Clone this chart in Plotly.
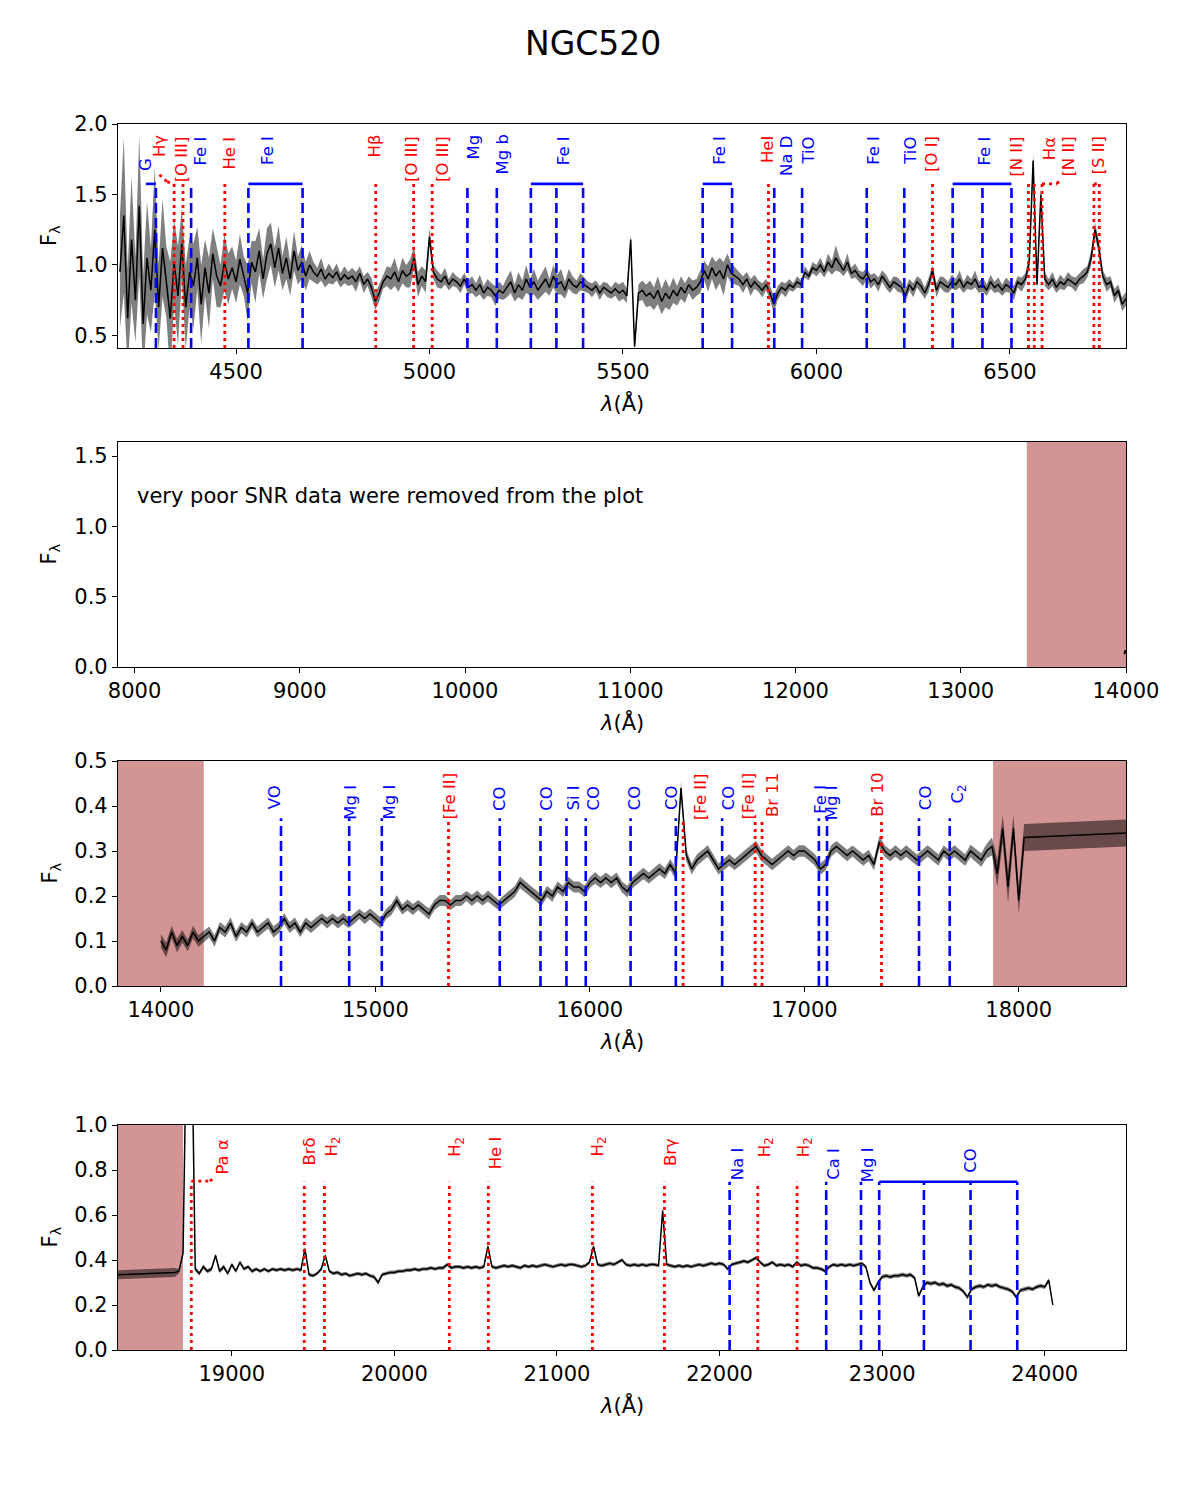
import numpy as np
import plotly.graph_objects as go

# ---------------- data ----------------
# Panel 1 (optical), 10 A grid 4200..6800
P1_WAVE = np.arange(4200, 6801, 10)
P1_FLUX = [
    0.95, 1.35, 0.62, 1.18, 0.75, 1.42, 0.58, 1.05, 0.82, 1.25,
    0.70, 1.12, 0.88, 0.62, 1.02, 0.78, 1.15, 0.70, 0.95, 0.85,
    1.05, 0.72, 0.98, 0.80, 1.08, 0.92, 0.85, 1.02, 0.90, 0.98,
    0.88, 1.04, 0.92, 0.80, 1.02, 0.95, 1.10, 0.90, 1.08, 1.15,
    0.98, 1.12, 0.94, 1.05, 0.90, 1.10, 0.96, 1.02, 0.92, 1.00,
    0.95, 0.92, 0.97, 0.90, 0.94, 0.91, 0.95, 0.89, 0.93, 0.90,
    0.92, 0.88, 0.94, 0.86, 0.90, 0.84, 0.74, 0.80, 0.88, 0.92,
    0.90, 0.95, 0.88, 0.96, 0.92, 0.94, 1.05, 0.86, 0.92, 0.88,
    1.20, 0.95, 0.90, 0.88, 0.92, 0.86, 0.90, 0.88, 0.85, 0.90,
    0.84, 0.86, 0.82, 0.86, 0.80, 0.84, 0.82, 0.78, 0.82, 0.80,
    0.84, 0.88, 0.80, 0.86, 0.82, 0.90, 0.84, 0.88, 0.82, 0.86,
    0.90, 0.84, 0.92, 0.86, 0.88, 0.82, 0.90, 0.86, 0.84, 0.88,
    0.86, 0.84, 0.82, 0.85, 0.80, 0.84, 0.82, 0.80, 0.83, 0.80,
    0.82, 0.78, 1.18, 0.42, 0.80, 0.82, 0.78, 0.80, 0.76, 0.82,
    0.74, 0.80, 0.76, 0.82, 0.78, 0.84, 0.80, 0.86, 0.82, 0.84,
    0.88, 0.96, 0.90, 0.98, 0.92, 0.96, 0.90, 1.00, 0.94, 0.92,
    0.90, 0.86, 0.90, 0.84, 0.88, 0.85, 0.82, 0.86, 0.80, 0.72,
    0.80, 0.84, 0.82, 0.86, 0.84, 0.88, 0.86, 0.95, 0.92, 0.98,
    0.96, 1.00, 0.95, 1.02, 0.98, 1.05, 1.00, 0.96, 1.02, 0.94,
    0.96, 0.92, 0.90, 0.94, 0.88, 0.90, 0.86, 0.92, 0.88, 0.84,
    0.88, 0.86, 0.84, 0.78, 0.86, 0.82, 0.88, 0.85, 0.80, 0.86,
    0.96, 0.82, 0.88, 0.86, 0.84, 0.88, 0.86, 0.90, 0.84, 0.88,
    0.86, 0.90, 0.84, 0.86, 0.82, 0.88, 0.84, 0.86, 0.82, 0.86,
    0.84, 0.80, 0.88, 0.86, 0.90, 1.02, 1.74, 0.86, 1.50, 0.90,
    0.86, 0.90, 0.84, 0.88, 0.86, 0.90, 0.88, 0.86, 0.90, 0.92,
    0.95, 1.05, 1.25, 1.12, 0.92, 0.86, 0.88, 0.78, 0.82, 0.72,
    0.76,
]
P1_ERR = [
    0.40, 0.55, 0.35, 0.45, 0.30, 0.50, 0.35, 0.40, 0.30, 0.45,
    0.30, 0.35, 0.25, 0.40, 0.30, 0.35, 0.25, 0.30, 0.25, 0.30,
    0.22, 0.28, 0.20, 0.25, 0.18, 0.22, 0.15, 0.20, 0.18, 0.15,
    0.15, 0.18, 0.14, 0.20, 0.15, 0.22, 0.16, 0.14, 0.18, 0.15,
    0.14, 0.16, 0.12, 0.15, 0.12, 0.14, 0.10, 0.12, 0.10, 0.10,
    0.07, 0.06, 0.08, 0.06, 0.07, 0.05, 0.06, 0.05, 0.06, 0.05,
    0.06, 0.07, 0.05, 0.06, 0.05, 0.07, 0.06, 0.06, 0.05, 0.07,
    0.08, 0.10, 0.07, 0.09, 0.08, 0.10, 0.08, 0.09, 0.07, 0.08,
    0.06, 0.05, 0.06, 0.05, 0.06, 0.04, 0.05, 0.04, 0.05, 0.04,
    0.05, 0.06, 0.05, 0.07, 0.05, 0.06, 0.05, 0.07, 0.06, 0.05,
    0.07, 0.08, 0.06, 0.09, 0.07, 0.10, 0.06, 0.09, 0.07, 0.08,
    0.09, 0.06, 0.08, 0.07, 0.09, 0.06, 0.07, 0.06, 0.05, 0.06,
    0.05, 0.04, 0.05, 0.04, 0.05, 0.04, 0.05, 0.04, 0.05, 0.06,
    0.06, 0.05, 0.04, 0.04, 0.06, 0.07, 0.08, 0.09, 0.08, 0.10,
    0.09, 0.10, 0.08, 0.09, 0.07, 0.08, 0.07, 0.06, 0.07, 0.06,
    0.08, 0.07, 0.09, 0.08, 0.10, 0.09, 0.12, 0.08, 0.07, 0.06,
    0.05, 0.06, 0.05, 0.06, 0.05, 0.04, 0.05, 0.04, 0.05, 0.06,
    0.05, 0.04, 0.05, 0.04, 0.03, 0.04, 0.03, 0.04, 0.03, 0.04,
    0.04, 0.05, 0.04, 0.06, 0.05, 0.09, 0.05, 0.04, 0.06, 0.04,
    0.05, 0.04, 0.05, 0.04, 0.05, 0.04, 0.05, 0.04, 0.05, 0.04,
    0.04, 0.05, 0.04, 0.05, 0.04, 0.05, 0.04, 0.05, 0.04, 0.05,
    0.04, 0.05, 0.04, 0.05, 0.04, 0.05, 0.04, 0.06, 0.04, 0.05,
    0.04, 0.06, 0.04, 0.05, 0.04, 0.05, 0.04, 0.05, 0.04, 0.05,
    0.04, 0.05, 0.04, 0.05, 0.04, 0.05, 0.05, 0.05, 0.04, 0.05,
    0.04, 0.05, 0.04, 0.05, 0.04, 0.05, 0.04, 0.05, 0.04, 0.05,
    0.04, 0.05, 0.05, 0.05, 0.04, 0.05, 0.04, 0.05, 0.04, 0.05,
    0.05,
]

# Panel 2 (nearly empty)
P2_WAVE = [13990, 13995, 14000]
P2_FLUX = [0.09, 0.12, 0.10]
P2_NOTE = "very poor SNR data were removed from the plot"

# Panel 3 (H band), 25 A grid 14000..18025 plus 18500
P3_WAVE = list(np.arange(14000, 18026, 25)) + [18500]
P3_FLUX = [
    0.10, 0.08, 0.12, 0.09,  0.11, 0.09, 0.12, 0.10,
    0.11, 0.12, 0.10, 0.13,  0.12, 0.14, 0.11, 0.13,
    0.12, 0.14, 0.12, 0.13,  0.14, 0.12, 0.13, 0.15,
    0.13, 0.14, 0.12, 0.14,  0.13, 0.14, 0.15, 0.14,
    0.15, 0.14, 0.15, 0.14,  0.15, 0.16, 0.15, 0.16,
    0.15, 0.14, 0.16, 0.17,  0.19, 0.17, 0.18, 0.17,
    0.18, 0.17, 0.16, 0.18,  0.19, 0.19, 0.18, 0.19,
    0.19, 0.20, 0.19, 0.20,  0.19, 0.20, 0.19, 0.18,
    0.19, 0.20, 0.21, 0.23,  0.22, 0.21, 0.20, 0.19,
    0.21, 0.20, 0.22, 0.21,  0.23, 0.22, 0.22, 0.21,
    0.23, 0.24, 0.23, 0.24,  0.23, 0.24, 0.22, 0.21,
    0.23, 0.24, 0.25, 0.24,  0.25, 0.26, 0.25, 0.27,
    0.25, 0.44, 0.29, 0.26,  0.28, 0.29, 0.30, 0.28,
    0.26, 0.27, 0.28, 0.27,  0.28, 0.29, 0.30, 0.31,
    0.29, 0.28, 0.27, 0.28,  0.29, 0.30, 0.29, 0.30,
    0.30, 0.29, 0.28, 0.26,  0.27, 0.30, 0.31, 0.30,
    0.29, 0.30, 0.29, 0.28,  0.29, 0.27, 0.32, 0.30,
    0.29, 0.30, 0.29, 0.30,  0.29, 0.28, 0.29, 0.30,
    0.29, 0.28, 0.30, 0.29,  0.30, 0.29, 0.28, 0.30,
    0.29, 0.28, 0.30, 0.31,  0.25, 0.35, 0.22, 0.35,
    0.19, 0.33,
    0.34,
]
P3_ERR = [
    0.015, 0.016, 0.014, 0.015,  0.014, 0.013, 0.014, 0.013,
    0.013, 0.012, 0.013, 0.012,  0.012, 0.013, 0.012, 0.012,
    0.012, 0.011, 0.012, 0.012,  0.012, 0.013, 0.012, 0.012,
    0.012, 0.012, 0.011, 0.012,  0.012, 0.012, 0.011, 0.012,
    0.011, 0.012, 0.012, 0.011,  0.012, 0.011, 0.012, 0.012,
    0.012, 0.012, 0.011, 0.012,  0.012, 0.011, 0.012, 0.012,
    0.011, 0.012, 0.012, 0.011,  0.012, 0.012, 0.011, 0.012,
    0.012, 0.011, 0.012, 0.012,  0.011, 0.012, 0.012, 0.011,
    0.012, 0.012, 0.012, 0.013,  0.012, 0.012, 0.013, 0.012,
    0.012, 0.013, 0.012, 0.012,  0.013, 0.012, 0.012, 0.013,
    0.012, 0.013, 0.012, 0.012,  0.013, 0.012, 0.012, 0.013,
    0.012, 0.012, 0.013, 0.012,  0.012, 0.013, 0.012, 0.012,
    0.013, 0.014, 0.013, 0.012,  0.013, 0.012, 0.013, 0.013,
    0.012, 0.013, 0.013, 0.012,  0.013, 0.013, 0.012, 0.013,
    0.013, 0.012, 0.013, 0.013,  0.013, 0.013, 0.012, 0.013,
    0.013, 0.012, 0.013, 0.013,  0.013, 0.013, 0.012, 0.013,
    0.013, 0.012, 0.013, 0.013,  0.013, 0.013, 0.014, 0.013,
    0.013, 0.013, 0.012, 0.013,  0.013, 0.012, 0.013, 0.013,
    0.013, 0.013, 0.012, 0.013,  0.013, 0.014, 0.013, 0.014,
    0.014, 0.015, 0.016, 0.020,  0.030, 0.030, 0.035, 0.030,
    0.030, 0.030,
    0.030,
]

# Panel 4 (K band): flat gap 18300-18650 then 25 A grid 18675..24050
P4_WAVE = [18300, 18650] + list(np.arange(18675, 24051, 25))
P4_FLUX = [
    0.335, 0.345,
    0.35,
    0.43, 1.60, 1.60, 0.36,
    0.34, 0.37, 0.35, 0.36,  0.42, 0.35, 0.37, 0.34,
    0.38, 0.35, 0.39, 0.36,  0.37, 0.35, 0.36, 0.35,
    0.36, 0.35, 0.36, 0.355, 0.36, 0.355, 0.36, 0.355,
    0.36, 0.355, 0.45, 0.335, 0.33, 0.34, 0.36, 0.42,
    0.35, 0.34, 0.345, 0.335, 0.34, 0.33, 0.335, 0.34,
    0.335, 0.34, 0.33, 0.325, 0.30, 0.335, 0.34, 0.345,
    0.345, 0.35, 0.35, 0.355, 0.355, 0.36, 0.355, 0.36,
    0.36, 0.365, 0.36, 0.365, 0.365, 0.38, 0.365, 0.37,
    0.37, 0.365, 0.37, 0.365, 0.37, 0.365, 0.37, 0.46,
    0.37, 0.365, 0.37, 0.375, 0.37, 0.375, 0.37, 0.365,
    0.375, 0.37, 0.375, 0.37, 0.375, 0.38, 0.375, 0.37,
    0.375, 0.38, 0.375, 0.38, 0.38, 0.375, 0.37, 0.375,
    0.39, 0.46, 0.38, 0.375, 0.38, 0.385, 0.38, 0.39,
    0.40, 0.38, 0.375, 0.38, 0.375, 0.38, 0.375, 0.38,
    0.38, 0.375, 0.62, 0.38, 0.375, 0.37, 0.375, 0.37,
    0.375, 0.37, 0.375, 0.38, 0.375, 0.38, 0.385, 0.38,
    0.385, 0.38, 0.36, 0.38, 0.385, 0.39, 0.395, 0.39,
    0.40, 0.41, 0.39, 0.375, 0.38, 0.39, 0.375, 0.38,
    0.375, 0.38, 0.37, 0.39, 0.375, 0.38, 0.375, 0.365,
    0.365, 0.36, 0.35, 0.37, 0.38, 0.375, 0.38, 0.375,
    0.38, 0.375, 0.38, 0.385, 0.37, 0.30, 0.265, 0.30,
    0.325, 0.33, 0.325, 0.33, 0.33, 0.335, 0.33, 0.335,
    0.32, 0.24, 0.28, 0.30, 0.295, 0.30, 0.29, 0.295,
    0.285, 0.29, 0.28, 0.275, 0.26, 0.235, 0.27, 0.28,
    0.285, 0.28, 0.29, 0.285, 0.29, 0.28, 0.275, 0.27,
    0.26, 0.235, 0.265, 0.27, 0.275, 0.27, 0.28, 0.285,
    0.28, 0.31, 0.20,
]
P4_ERR = [
    0.020, 0.020,
    0.010,
    0.012, 0.015, 0.015, 0.010,
    0.009, 0.010, 0.009, 0.010,  0.010, 0.009, 0.010, 0.009,
    0.009, 0.008, 0.009, 0.008,  0.008, 0.009, 0.008, 0.008,
    0.008, 0.008, 0.008, 0.008,  0.008, 0.008, 0.008, 0.008,
    0.008, 0.008, 0.009, 0.008,  0.008, 0.008, 0.008, 0.009,
    0.008, 0.008, 0.008, 0.008,  0.008, 0.008, 0.008, 0.008,
    0.008, 0.008, 0.008, 0.009,  0.010, 0.008, 0.008, 0.008,
    0.008, 0.008, 0.008, 0.008,  0.008, 0.008, 0.008, 0.008,
    0.008, 0.008, 0.008, 0.008,  0.008, 0.008, 0.008, 0.008,
    0.008, 0.008, 0.008, 0.008,  0.008, 0.008, 0.008, 0.009,
    0.008, 0.008, 0.008, 0.008,  0.008, 0.008, 0.008, 0.008,
    0.008, 0.008, 0.008, 0.008,  0.008, 0.008, 0.008, 0.008,
    0.008, 0.008, 0.008, 0.008,  0.008, 0.008, 0.008, 0.008,
    0.008, 0.009, 0.008, 0.008,  0.008, 0.008, 0.008, 0.008,
    0.008, 0.008, 0.008, 0.008,  0.008, 0.008, 0.008, 0.008,
    0.008, 0.008, 0.010, 0.008,  0.008, 0.008, 0.008, 0.008,
    0.008, 0.008, 0.008, 0.008,  0.008, 0.008, 0.008, 0.008,
    0.008, 0.008, 0.008, 0.008,  0.008, 0.008, 0.008, 0.008,
    0.008, 0.008, 0.008, 0.008,  0.008, 0.008, 0.008, 0.008,
    0.008, 0.008, 0.008, 0.008,  0.008, 0.008, 0.008, 0.008,
    0.008, 0.008, 0.008, 0.008,  0.008, 0.008, 0.008, 0.008,
    0.008, 0.008, 0.008, 0.008,  0.008, 0.009, 0.009, 0.009,
    0.009, 0.009, 0.009, 0.009,  0.009, 0.009, 0.009, 0.009,
    0.009, 0.009, 0.009, 0.009,  0.009, 0.009, 0.009, 0.009,
    0.009, 0.009, 0.009, 0.009,  0.009, 0.009, 0.009, 0.009,
    0.009, 0.009, 0.009, 0.009,  0.009, 0.009, 0.009, 0.009,
    0.009, 0.009, 0.009, 0.009,  0.009, 0.009, 0.009, 0.009,
    0.009, 0.010, 0.010,
]

# masked (shaded) wavelength ranges per panel
MASKS = {
    2: [(13400, 14000)],
    3: [(13800, 14200), (17880, 18500)],
    4: [(18300, 18700)],
}

# spectral line markers: (wavelength, kind) ; kind 'abs' = blue dashed, 'em' = red dotted
P1_LINES = [(4293, "abs"), (4340, "em"), (4363, "em"), (4384, "abs"), (4471, "em"),
            (4532, "abs"), (4672, "abs"), (4861, "em"), (4959, "em"), (5007, "em"),
            (5098, "abs"), (5174, "abs"), (5262, "abs"), (5328, "abs"), (5397, "abs"),
            (5706, "abs"), (5782, "abs"), (5876, "em"), (5891, "abs"), (5963, "abs"),
            (6130, "abs"), (6227, "abs"), (6300, "em"), (6352, "abs"), (6429, "abs"),
            (6504, "abs"), (6548, "em"), (6563, "em"), (6583, "em"), (6717, "em"), (6731, "em")]
P1_BARS = [(4267, 4293), (4532, 4672), (5262, 5397), (5706, 5782), (6352, 6504)]
P1_LABELS = [("G", 4266, "abs", 1.765), ("Hγ", 4304, "em", 1.93), ("[O III]", 4358, "em", 1.92),
             ("Fe I", 4409, "abs", 1.92), ("He I", 4484, "em", 1.92), ("Fe I", 4583, "abs", 1.92),
             ("Hβ", 4857, "em", 1.93), ("[O III]", 4954, "em", 1.92), ("[O III]", 5034, "em", 1.92),
             ("Mg", 5113, "abs", 1.93), ("Mg b", 5189, "abs", 1.93), ("Fe I", 5346, "abs", 1.92),
             ("Fe I", 5751, "abs", 1.92), ("HeI", 5873, "em", 1.92), ("Na D", 5923, "abs", 1.92),
             ("TiO", 5979, "abs", 1.92), ("Fe I", 6149, "abs", 1.92), ("TiO", 6243, "abs", 1.92),
             ("[O I]", 6298, "em", 1.92), ("Fe I", 6435, "abs", 1.92), ("[N II]", 6517, "em", 1.92),
             ("Hα", 6601, "em", 1.91), ("[N II]", 6651, "em", 1.92), ("[S II]", 6728, "em", 1.92)]
P1_CONNECT = [((4302, 1.64), (4322, 1.59)), ((4322, 1.59), (4340, 1.575)),
              ((6583, 1.575), (6622, 1.575)), ((6622, 1.575), (6630, 1.61)),
              ((6717, 1.575), (6731, 1.575))]

P3_LINES = [(14560, "abs"), (14878, "abs"), (15030, "abs"), (15341, "em"), (15580, "abs"),
            (15770, "abs"), (15891, "abs"), (15981, "abs"), (16190, "abs"), (16401, "abs"),
            (16435, "em"), (16617, "abs"), (16771, "em"), (16803, "em"), (17068, "abs"),
            (17106, "abs"), (17360, "em"), (17535, "abs"), (17678, "abs")]
P3_LABELS = [("VO", 14533, "abs", 0.449), ("Mg I", 14883, "abs", 0.449), ("Mg I", 15064, "abs", 0.449),
             ("[Fe II]", 15344, "em", 0.476), ("CO", 15580, "abs", 0.447), ("CO", 15798, "abs", 0.447),
             ("Si I", 15922, "abs", 0.447), ("CO", 16015, "abs", 0.447), ("CO", 16210, "abs", 0.449),
             ("CO", 16381, "abs", 0.449), ("[Fe II]", 16513, "em", 0.476), ("CO", 16648, "abs", 0.449),
             ("[Fe II]", 16738, "em", 0.476), ("Br 11", 16855, "em", 0.476), ("Fe I", 17075, "abs", 0.449),
             ("Mg I", 17128, "abs", 0.449), ("Br 10", 17344, "em", 0.476), ("CO", 17566, "abs", 0.449),
             ("C<sub>2</sub>", 17717, "abs", 0.449)]

P4_LINES = [(18751, "em"), (19446, "em"), (19570, "em"), (20338, "em"), (20578, "em"),
            (21218, "em"), (21661, "em"), (22062, "abs"), (22235, "em"), (22477, "em"),
            (22656, "abs"), (22870, "abs"), (22982, "abs"), (23257, "abs"), (23544, "abs"), (23831, "abs")]
P4_BARS = [(22982, 23831)]
P4_LABELS = [("Pa α", 18937, "em", 0.942), ("Brδ", 19480, "em", 0.948), ("H<sub>2</sub>", 19620, "em", 0.952),
             ("H<sub>2</sub>", 20379, "em", 0.952), ("He I", 20619, "em", 0.952), ("H<sub>2</sub>", 21256, "em", 0.952),
             ("Brγ", 21697, "em", 0.948), ("Na I", 22108, "abs", 0.904), ("H<sub>2</sub>", 22282, "em", 0.952),
             ("H<sub>2</sub>", 22522, "em", 0.952), ("Ca I", 22699, "abs", 0.904), ("Mg I", 22908, "abs", 0.904),
             ("CO", 23544, "abs", 0.904)]
P4_CONNECT = [((18751, 0.751), (18865, 0.751)), ((18865, 0.751), (18895, 0.765))]

# axes
X_RANGES = {1: (4195, 6800), 2: (7900, 14000), 3: (13800, 18500), 4: (18300, 24500)}
Y_RANGES = {1: (0.41, 2.0), 2: (0.0, 1.6), 3: (0.0, 0.5), 4: (0.0, 1.0)}
X_TICKS = {1: [4500, 5000, 5500, 6000, 6500],
           2: [8000, 9000, 10000, 11000, 12000, 13000, 14000],
           3: [14000, 15000, 16000, 17000, 18000],
           4: [19000, 20000, 21000, 22000, 23000, 24000]}
Y_TICKS = {1: [0.5, 1.0, 1.5, 2.0], 2: [0.0, 0.5, 1.0, 1.5],
           3: [0.0, 0.1, 0.2, 0.3, 0.4, 0.5], 4: [0.0, 0.2, 0.4, 0.6, 0.8, 1.0]}
LINE_TOP = {1: 1.575, 3: 0.373, 4: 0.748}

# ---------------- figure ----------------
W, H = 1185, 1500
FONT = "DejaVu Sans"
BLUE, RED = "#0000ff", "#ff0000"
SHADE = "rgba(165,42,42,0.5)"
BAND = "rgba(0,0,0,0.5)"
PIX = {1: (124, 348), 2: (442, 667), 3: (761, 986), 4: (1125, 1350)}
XDOM = [118 / W, 1126 / W]
TXT = 21
LBL = 16.5

fig = go.Figure()
layout = dict(
    width=W, height=H, margin=dict(l=0, r=0, t=0, b=0, pad=0, autoexpand=False),
    paper_bgcolor="white", plot_bgcolor="white", showlegend=False,
    font=dict(family=FONT, color="black", size=TXT),
)

for n in range(1, 5):
    sfx = "" if n == 1 else str(n)
    top, bot = PIX[n]
    layout["xaxis" + sfx] = dict(
        domain=XDOM, anchor="y" + sfx, range=list(X_RANGES[n]), automargin=False,
        tickmode="array", tickvals=X_TICKS[n], ticktext=[str(v) for v in X_TICKS[n]],
        ticks="outside", ticklen=5, tickwidth=1.2,
        tickcolor="black", showline=True, linecolor="black", linewidth=1.2, mirror=True,
        showgrid=False, zeroline=False, tickfont=dict(size=TXT, family=FONT, color="black"),
    )
    layout["yaxis" + sfx] = dict(
        domain=[1 - bot / H, 1 - top / H], anchor="x" + sfx, range=list(Y_RANGES[n]),
        automargin=False,
        tickmode="array", tickvals=Y_TICKS[n], ticktext=["%.1f" % v for v in Y_TICKS[n]],
        ticks="outside", ticklen=5,
        tickwidth=1.2, tickcolor="black", showline=True, linecolor="black", linewidth=1.2,
        mirror=True, showgrid=False, zeroline=False,
        tickfont=dict(size=TXT, family=FONT, color="black"),
    )

shapes = []
annotations = []


def add_spectrum(n, wave, flux, err):
    sfx = "" if n == 1 else str(n)
    wave = np.asarray(wave, float)
    flux = np.asarray(flux, float)
    if err is not None:
        err = np.asarray(err, float)
        fig.add_trace(go.Scatter(
            x=np.concatenate([wave, wave[::-1]]),
            y=np.concatenate([flux + err, (flux - err)[::-1]]),
            fill="toself", fillcolor=BAND, line=dict(width=0), mode="lines",
            hoverinfo="skip", xaxis="x" + sfx, yaxis="y" + sfx))
    fig.add_trace(go.Scatter(x=wave, y=flux, mode="lines",
                             line=dict(color="black", width=1.5),
                             xaxis="x" + sfx, yaxis="y" + sfx))


add_spectrum(1, P1_WAVE, P1_FLUX, P1_ERR)
add_spectrum(2, P2_WAVE, P2_FLUX, None)
add_spectrum(3, P3_WAVE, P3_FLUX, P3_ERR)
add_spectrum(4, P4_WAVE, P4_FLUX, P4_ERR)

# shaded masks
for n, spans in MASKS.items():
    sfx = "" if n == 1 else str(n)
    for a, b in spans:
        shapes.append(dict(type="rect", xref="x" + sfx, yref="y" + sfx, x0=a, x1=b,
                           y0=Y_RANGES[n][0], y1=Y_RANGES[n][1], fillcolor=SHADE,
                           line=dict(width=0), layer="below"))


def style(kind):
    if kind == "abs":
        return dict(color=BLUE, width=2.6, dash="10px,5px")
    return dict(color=RED, width=2.8, dash="3px,4px")


def add_lines(n, lines, bars, labels, connects):
    sfx = "" if n == 1 else str(n)
    ymin = Y_RANGES[n][0]
    ytop = LINE_TOP[n]
    for wl, kind in lines:
        shapes.append(dict(type="line", xref="x" + sfx, yref="y" + sfx, x0=wl, x1=wl,
                           y0=ymin, y1=ytop, line=style(kind)))
    for a, b in bars:
        shapes.append(dict(type="line", xref="x" + sfx, yref="y" + sfx, x0=a, x1=b,
                           y0=ytop, y1=ytop, line=dict(color=BLUE, width=2.6)))
    for (xa, ya), (xb, yb) in connects:
        shapes.append(dict(type="line", xref="x" + sfx, yref="y" + sfx, x0=xa, x1=xb,
                           y0=ya, y1=yb, line=dict(color=RED, width=2.8, dash="3px,4px")))
    for text, x, kind, ytxt in labels:
        annotations.append(dict(
            text=text, x=x, y=ytxt, xref="x" + sfx, yref="y" + sfx, showarrow=False,
            textangle=-90, xanchor="center", yanchor="top", borderpad=0,
            font=dict(size=LBL, family=FONT, color=BLUE if kind == "abs" else RED)))


add_lines(1, P1_LINES, P1_BARS, P1_LABELS, P1_CONNECT)
add_lines(3, P3_LINES, [], P3_LABELS, [])
add_lines(4, P4_LINES, P4_BARS, P4_LABELS, P4_CONNECT)

# panel 2 note
annotations.append(dict(text=P2_NOTE, x=8000, y=1.215, xref="x2", yref="y2", showarrow=False,
                        xanchor="left", yanchor="middle", font=dict(size=TXT, family=FONT)))

# axis titles
xc = (XDOM[0] + XDOM[1]) / 2
for n in range(1, 5):
    top, bot = PIX[n]
    annotations.append(dict(text="<i>λ</i>(Å)", x=xc, y=1 - (bot + 55) / H, xref="paper", yref="paper",
                            showarrow=False, xanchor="center", yanchor="middle",
                            font=dict(size=TXT, family=FONT)))
    annotations.append(dict(text="F<sub>λ</sub>", x=50 / W, y=1 - (top + bot) / 2 / H, xref="paper",
                            yref="paper", showarrow=False, textangle=-90, xanchor="center",
                            yanchor="middle", font=dict(size=TXT, family=FONT)))

# title
annotations.append(dict(text="NGC520", x=0.5, y=1 - 44 / H, xref="paper", yref="paper",
                        showarrow=False, xanchor="center", yanchor="middle",
                        font=dict(size=33, family=FONT)))

layout["shapes"] = shapes
layout["annotations"] = annotations
fig.update_layout(**layout)
fig.write_html("out.html")
